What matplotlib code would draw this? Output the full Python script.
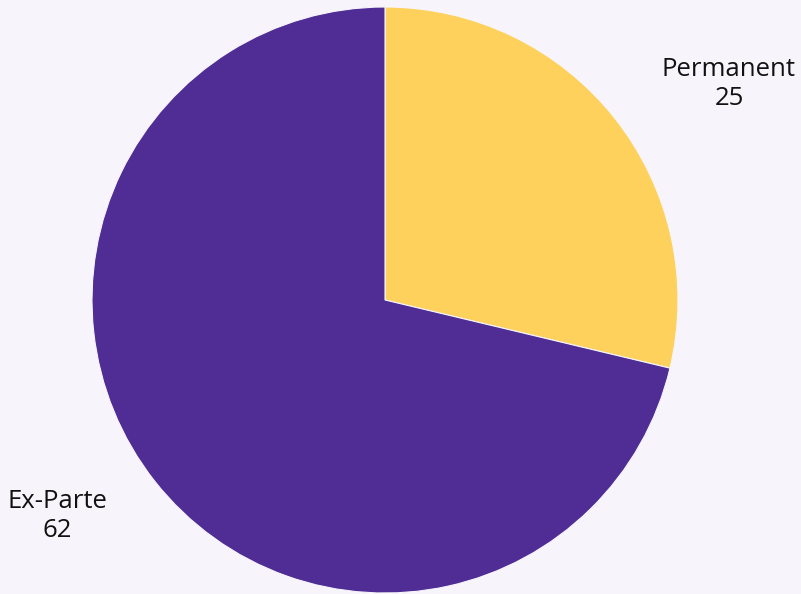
import matplotlib.pyplot as plt

categories = ["Permanent", "Ex-Parte"]
values = [25, 62]
colors = ["#FDD15B", "#4F2D95"]

W, H = 801, 594
fig = plt.figure(figsize=(W / 100, H / 100), dpi=100)
fig.patch.set_facecolor("#F7F5FB")
ax = fig.add_axes([0, 0, 1, 1])
ax.set_facecolor("#F7F5FB")

# pie in pixel coords (y flipped so top of image is H)
cx, cy, r = 385, H - 300, 293
wedges, _ = ax.pie(values, colors=colors, startangle=90, counterclock=False,
                   center=(cx, cy), radius=r, frame=True,
                   wedgeprops=dict(linewidth=0.8, edgecolor="#F7F5FB"))

# label positions (center of text block)
label_pos = [(729, H - 84), (57, H - 516)]
for (x, y), name, v in zip(label_pos, categories, values):
    ax.text(x, y, f"{name}\n{v}", ha="center", va="center", fontsize=18.5,
            family="Open Sans", color="#111111", linespacing=1.25)

ax.set_xlim(0, W)
ax.set_ylim(0, H)
ax.set_aspect("equal")
ax.axis("off")
fig.savefig("out.png", dpi=100, facecolor=fig.get_facecolor())
